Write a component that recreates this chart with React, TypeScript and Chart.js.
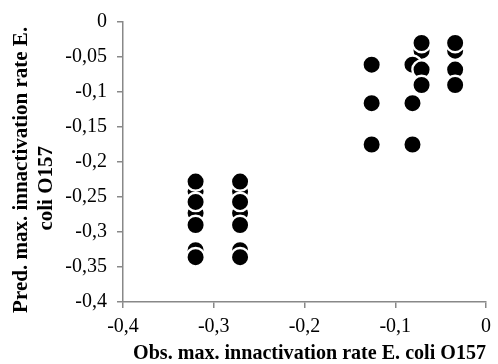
import React, { useEffect, useRef } from "react";
import { Chart, registerables } from "chart.js";

Chart.register(...registerables);

// Observed (x) and predicted (y) max. inactivation rates. Points partly hidden
// behind others come first so they are drawn underneath.
const obsRate = [
  -0.320, -0.320, -0.320,
  -0.271, -0.271, -0.271,
  -0.071, -0.034,
  -0.081,
  -0.320, -0.320, -0.320, -0.320,
  -0.271, -0.271, -0.271, -0.271,
  -0.126, -0.126, -0.126,
  -0.081, -0.081,
  -0.071, -0.071, -0.071,
  -0.034, -0.034, -0.034,
];
const predRate = [
  -0.242, -0.273, -0.326,
  -0.242, -0.273, -0.326,
  -0.041, -0.041,
  -0.061,
  -0.228, -0.257, -0.290, -0.336,
  -0.228, -0.257, -0.290, -0.336,
  -0.061, -0.116, -0.175,
  -0.116, -0.175,
  -0.030, -0.068, -0.090,
  -0.030, -0.068, -0.090,
];

const xTicks = [-0.4, -0.3, -0.2, -0.1, 0];
const xTickLabels = ["-0,4", "-0,3", "-0,2", "-0,1", "0"];
const yTicks = [0, -0.05, -0.1, -0.15, -0.2, -0.25, -0.3, -0.35, -0.4];
const yTickLabels = ["0", "-0,05", "-0,1", "-0,15", "-0,2", "-0,25", "-0,3", "-0,35", "-0,4"];

const xTitle = "  Obs. max. innactivation rate E. coli O157";
const yTitle = ["Pred. max. innactivation rate E.   ", "coli O157          "];

const FONT = "'Liberation Serif', 'Times New Roman', serif";
const AXIS = "#888888";

export default function App() {
  const ref = useRef<HTMLCanvasElement | null>(null);

  useEffect(() => {
    if (!ref.current) return;
    const points = obsRate.map((x, i) => ({ x, y: predRate[i] }));
    const chart = new Chart(ref.current, {
      type: "scatter",
      data: {
        datasets: [
          {
            data: points,
            pointRadius: 9.2,
            pointHoverRadius: 9.2,
            backgroundColor: "#000000",
            borderColor: "#ffffff",
            borderWidth: 2.4,
          },
        ],
      },
      options: {
        animation: false,
        responsive: true,
        maintainAspectRatio: false,
        layout: { padding: { top: 22, right: 6, left: 0, bottom: 0 } },
        plugins: { legend: { display: false }, tooltip: { enabled: false } },
        scales: {
          x: {
            type: "linear",
            min: -0.4,
            max: 0,
            afterBuildTicks: (s: any) => {
              s.ticks = xTicks.map((v) => ({ value: v }));
            },
            afterFit: (s: any) => {
              s.height = 62;
            },
            ticks: {
              callback: (_v: any, i: number) => xTickLabels[i],
              font: { family: FONT, size: 20 },
              color: "#000",
              padding: 7,
              maxRotation: 0,
            },
            grid: {
              drawOnChartArea: false,
              drawTicks: true,
              tickLength: 6,
              color: AXIS,
              lineWidth: 1.5,
            },
            border: { display: true, color: AXIS, width: 1.5 },
            title: {
              display: true,
              text: xTitle,
              font: { family: FONT, size: 21, weight: "bold" },
              color: "#000",
              padding: { top: 0, bottom: -2 },
            },
          },
          y: {
            type: "linear",
            min: -0.4,
            max: 0,
            afterBuildTicks: (s: any) => {
              s.ticks = yTicks.map((v) => ({ value: v }));
            },
            afterFit: (s: any) => {
              s.width = 123;
            },
            ticks: {
              callback: (_v: any, i: number) => yTickLabels[i],
              font: { family: FONT, size: 20 },
              color: "#000",
              padding: 10,
            },
            grid: {
              drawOnChartArea: false,
              drawTicks: true,
              tickLength: 6,
              color: AXIS,
              lineWidth: 1.5,
            },
            border: { display: true, color: AXIS, width: 1.5 },
            title: {
              display: true,
              text: yTitle,
              font: { family: FONT, size: 21, weight: "bold" },
              color: "#000",
              padding: { top: 9, bottom: 0 },
            },
          },
        },
      },
    });
    return () => chart.destroy();
  }, []);

  return (
    <div style={{ position: "absolute", left: 0, top: 0, width: 498, height: 364, background: "#fff" }}>
      <canvas ref={ref} />
    </div>
  );
}
